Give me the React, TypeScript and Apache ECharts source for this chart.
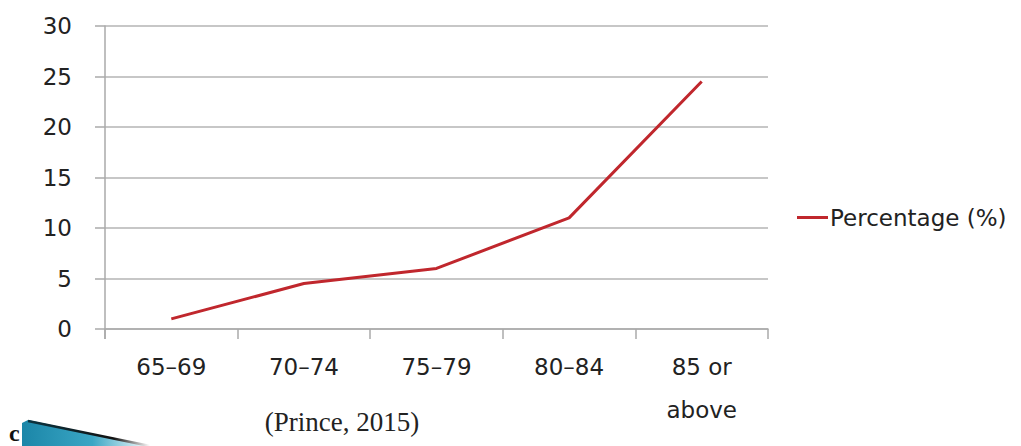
import React, { useEffect, useRef } from "react";
import * as echarts from "echarts";

const categories = ["65–69", "70–74", "75–79", "80–84", "85 or\nabove"];
const percentage = [1, 4.5, 6, 11, 24.5];
const yTicks = { min: 0, max: 30, interval: 5 };
const seriesName = "Percentage (%)";
const sourceNote = "(Prince, 2015)";

export default function App() {
  const ref = useRef<HTMLDivElement>(null);
  useEffect(() => {
    document.body.style.margin = "0";
    const chart = echarts.init(ref.current!, null, { renderer: "svg" });
    const font = "DejaVu Sans";
    chart.setOption({
      animation: false,
      backgroundColor: "#ffffff",
      grid: { left: 105, right: 253, top: 26, bottom: 117 },
      legend: {
        left: 792,
        top: 201,
        icon: "rect",
        itemWidth: 31,
        itemHeight: 3,
        data: [seriesName],
        textStyle: { fontFamily: font, fontSize: 23, color: "#222", padding: [0, 0, 0, -3] },
      },
      xAxis: {
        type: "category",
        data: categories,
        boundaryGap: true,
        axisLine: { lineStyle: { color: "#aaaaaa", width: 1.5 } },
        axisTick: { show: true, length: 10, lineStyle: { color: "#aaaaaa", width: 1.5 } },
        axisLabel: { fontFamily: font, fontSize: 23, color: "#222", margin: 16, lineHeight: 43, interval: 0 },
        splitLine: { show: false },
      },
      yAxis: {
        type: "value",
        min: yTicks.min,
        max: yTicks.max,
        interval: yTicks.interval,
        axisLine: { show: true, lineStyle: { color: "#aaaaaa", width: 1.5 } },
        axisTick: { show: true, length: 10, lineStyle: { color: "#aaaaaa", width: 1.5 } },
        axisLabel: { fontFamily: font, fontSize: 23, color: "#222", margin: 33 },
        splitLine: { lineStyle: { color: "#b5b5b5", width: 1.5 } },
      },
      series: [
        {
          name: seriesName,
          type: "line",
          data: percentage,
          symbol: "none",
          color: "#c0272d",
          lineStyle: { color: "#c0272d", width: 3 },
        },
      ],
      graphic: [
        {
          type: "line",
          shape: { x1: 105, y1: 329, x2: 105, y2: 339 },
          style: { stroke: "#aaaaaa", lineWidth: 1.5 },
        },
        {
          type: "text",
          x: 342,
          y: 422,
          style: {
            text: sourceNote,
            fontFamily: "Liberation Serif",
            fontSize: 27,
            fill: "#222",
            textAlign: "center",
            textVerticalAlign: "middle",
          },
        },
        {
          type: "text",
          x: 9,
          y: 433,
          style: {
            text: "c",
            fontFamily: "Liberation Serif",
            fontSize: 24,
            fontWeight: "bold",
            fill: "#111",
            textAlign: "left",
            textVerticalAlign: "middle",
          },
        },
        {
          type: "polygon",
          shape: { points: [[22, 423], [28, 420], [150, 446], [22, 446]] },
          style: {
            fill: new echarts.graphic.LinearGradient(0, 0, 1, 0, [
              { offset: 0, color: "#1b86a8" },
              { offset: 0.55, color: "#3aa6c4" },
              { offset: 1, color: "#ffffff" },
            ]),
          },
        },
        {
          type: "line",
          shape: { x1: 28, y1: 421, x2: 150, y2: 446 },
          style: {
            stroke: new echarts.graphic.LinearGradient(0, 0, 1, 0, [
              { offset: 0, color: "#0c3440" },
              { offset: 0.7, color: "#111111" },
              { offset: 1, color: "#ffffff" },
            ]),
            lineWidth: 2.5,
          },
        },
      ],
    });
    return () => chart.dispose();
  }, []);
  return <div ref={ref} style={{ position: "absolute", left: 0, top: 0, width: 1021, height: 446 }} />;
}
